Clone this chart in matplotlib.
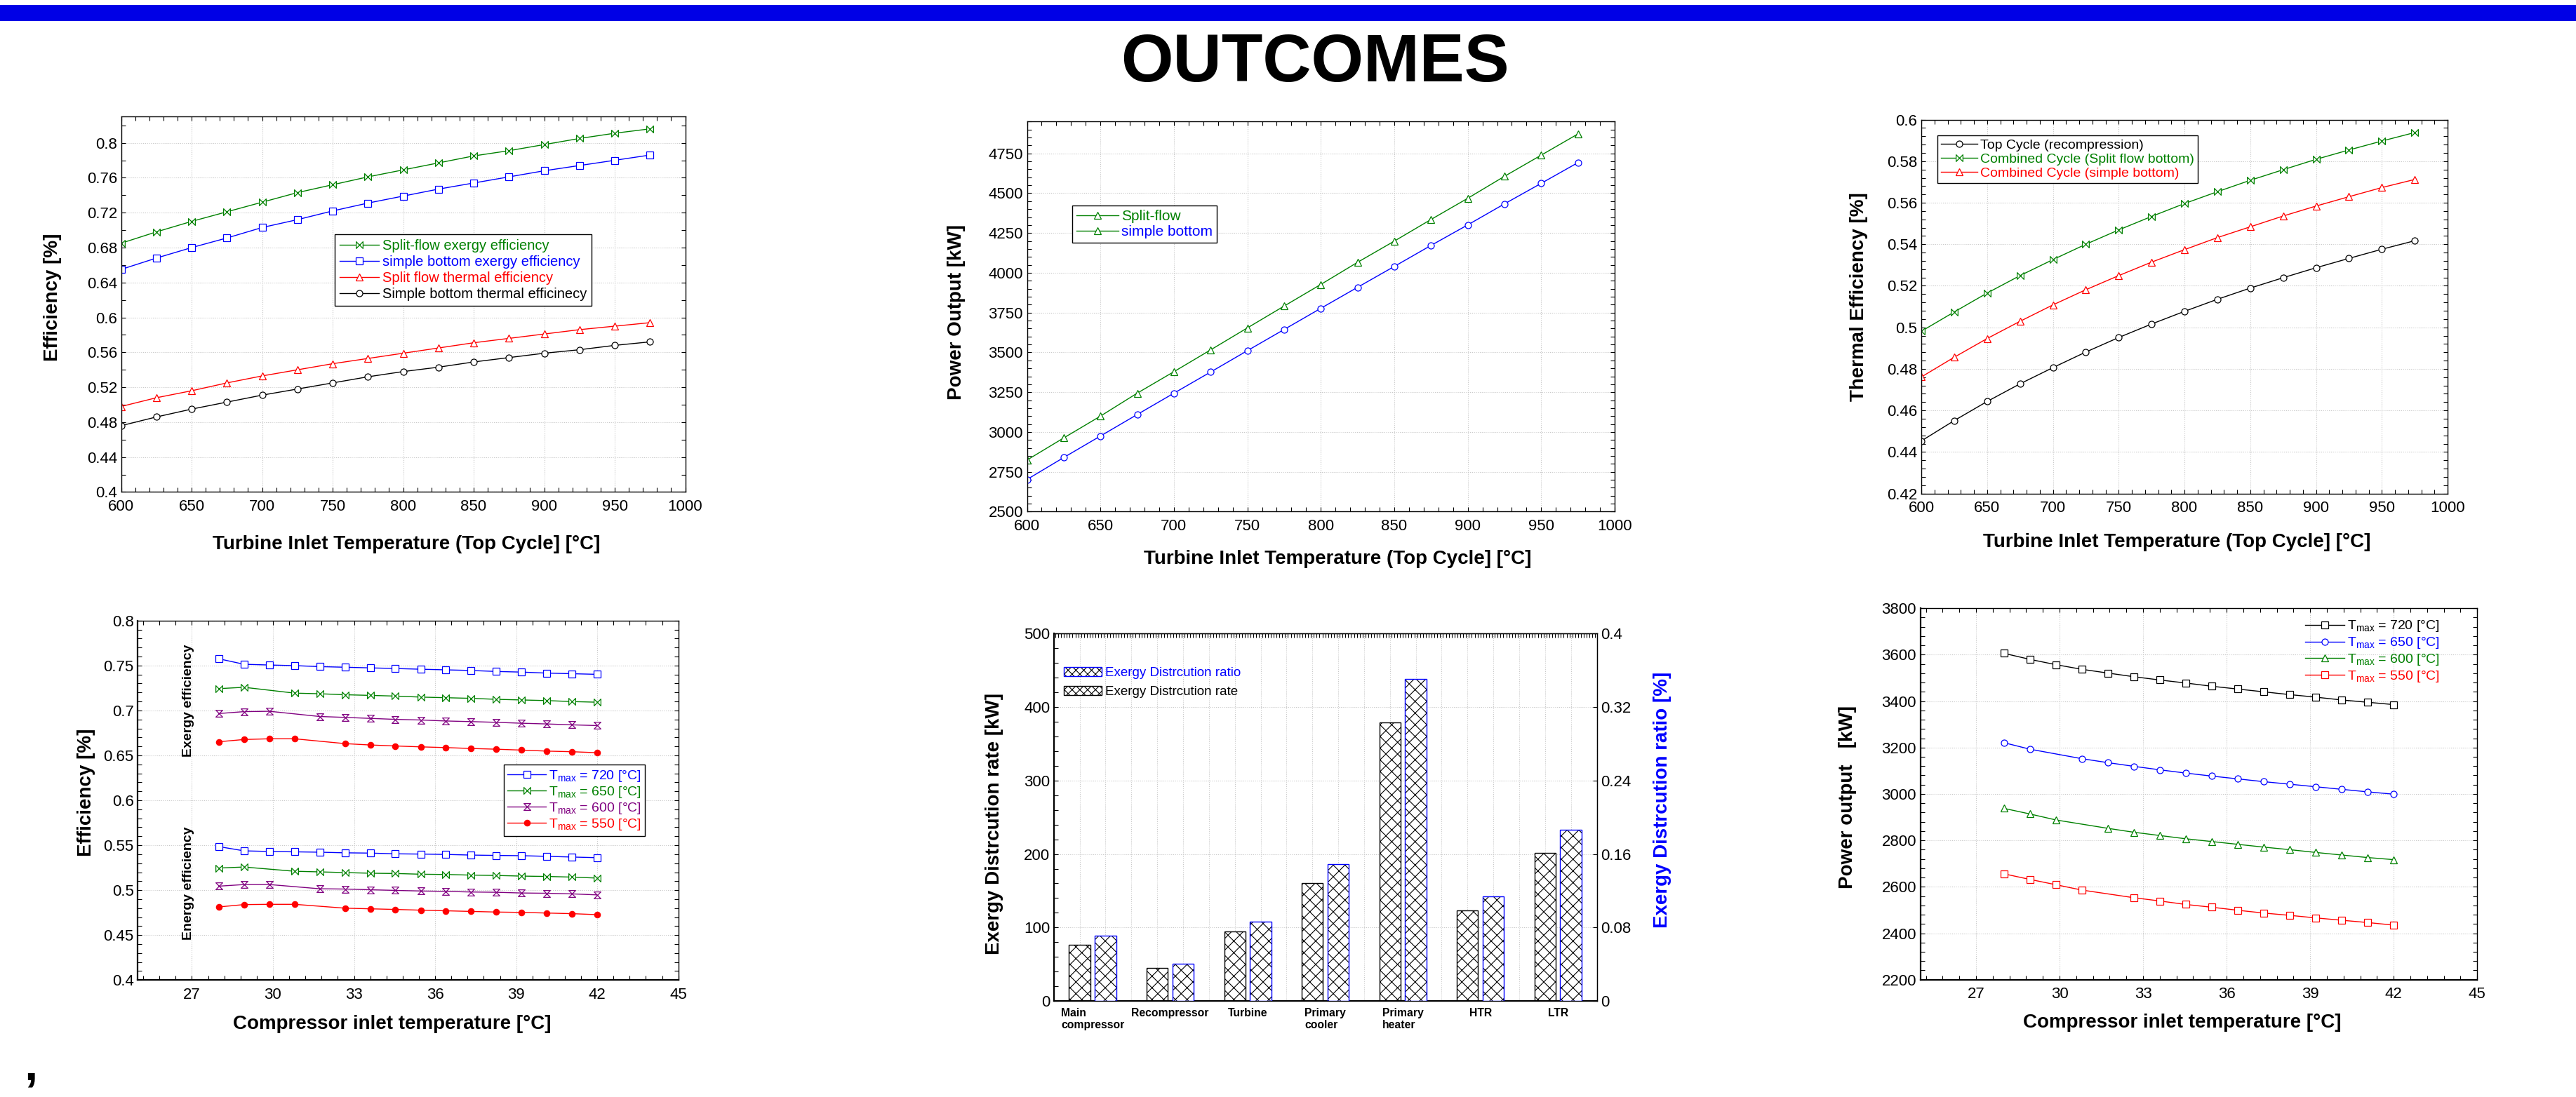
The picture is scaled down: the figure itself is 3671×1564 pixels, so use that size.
import numpy as np
import matplotlib
matplotlib.use('Agg')
import matplotlib.pyplot as plt
from matplotlib.path import Path
from matplotlib.patches import Patch, Rectangle
from matplotlib.lines import Line2D
from matplotlib.ticker import MultipleLocator, FuncFormatter

plt.rcParams['font.family'] = ['Liberation Sans', 'DejaVu Sans']
plt.rcParams['mathtext.fontset'] = 'custom'
plt.rcParams['mathtext.rm'] = 'Liberation Sans'
plt.rcParams['hatch.linewidth'] = 0.8

# ---- top row: sweep of turbine inlet temperature ----
tit = [600, 625, 650, 675, 700, 725, 750, 775, 800, 825, 850, 875, 900, 925, 950, 975]

split_exergy = [0.685, 0.698, 0.710, 0.721, 0.732, 0.743, 0.752, 0.761, 0.769, 0.777, 0.785, 0.791, 0.798, 0.805, 0.811, 0.816]
simple_exergy = [0.655, 0.668, 0.680, 0.691, 0.703, 0.712, 0.722, 0.731, 0.739, 0.747, 0.754, 0.761, 0.768, 0.774, 0.780, 0.786]
split_thermal = [0.498, 0.508, 0.516, 0.525, 0.533, 0.540, 0.547, 0.553, 0.559, 0.565, 0.571, 0.576, 0.581, 0.586, 0.590, 0.594]
simple_thermal = [0.476, 0.486, 0.495, 0.503, 0.511, 0.518, 0.525, 0.532, 0.538, 0.543, 0.549, 0.554, 0.559, 0.563, 0.568, 0.572]

power_split = [2824, 2963, 3100, 3244, 3379, 3516, 3654, 3791, 3927, 4066, 4199, 4335, 4468, 4606, 4739, 4872]
power_simple = [2702, 2840, 2975, 3110, 3244, 3377, 3511, 3644, 3777, 3909, 4040, 4172, 4301, 4433, 4562, 4692]

eta_top = [0.4453, 0.4551, 0.4643, 0.4728, 0.4806, 0.4881, 0.4951, 0.5016, 0.5077, 0.5135, 0.5189, 0.5239, 0.5287, 0.5332, 0.5376, 0.5417]
eta_cc_split = [0.4981, 0.5074, 0.5165, 0.5249, 0.5326, 0.5400, 0.5469, 0.5534, 0.5596, 0.5653, 0.5708, 0.5759, 0.5809, 0.5854, 0.5897, 0.5938]
eta_cc_simple = [0.4761, 0.4856, 0.4946, 0.5029, 0.5108, 0.5181, 0.5249, 0.5314, 0.5374, 0.5432, 0.5484, 0.5536, 0.5584, 0.5629, 0.5673, 0.5712]

# ---- bottom row: sweep of compressor inlet temperature (None = point not solved) ----
cit = [28, 28.93, 29.87, 30.8, 31.73, 32.67, 33.6, 34.53, 35.47, 36.4, 37.33, 38.27, 39.2, 40.13, 41.07, 42]

ex720 = [0.7575, 0.7514, 0.7506, 0.7499, 0.7488, 0.7481, 0.7474, 0.7467, 0.7459, 0.7452, 0.7445, 0.7434, 0.7427, 0.7416, 0.7409, 0.7402]
ex650 = [0.7243, 0.7258, None, 0.7193, 0.7186, 0.7175, 0.7168, 0.7160, 0.7149, 0.7142, 0.7135, 0.7124, 0.7117, 0.7110, 0.7099, 0.7092]
ex600 = [0.6966, 0.6987, 0.6991, None, 0.6933, 0.6923, 0.6912, 0.6901, 0.6894, 0.6883, 0.6876, 0.6868, 0.6858, 0.6850, 0.6840, 0.6832]
ex550 = [0.6652, 0.6677, 0.6685, 0.6685, None, 0.6631, 0.6616, 0.6605, 0.6595, 0.6587, 0.6577, 0.6569, 0.6559, 0.6548, 0.6541, 0.6530]
en720 = [0.5485, 0.5438, 0.5431, 0.5427, 0.5423, 0.5416, 0.5413, 0.5405, 0.5402, 0.5398, 0.5391, 0.5387, 0.5384, 0.5377, 0.5369, 0.5362]
en650 = [0.5247, 0.5258, None, 0.5211, 0.5204, 0.5196, 0.5189, 0.5186, 0.5178, 0.5175, 0.5168, 0.5164, 0.5157, 0.5153, 0.5146, 0.5135]
en600 = [0.5045, 0.5063, 0.5063, None, 0.5016, 0.5013, 0.5005, 0.4998, 0.4991, 0.4987, 0.4980, 0.4977, 0.4969, 0.4966, 0.4959, 0.4948]
en550 = [0.4814, 0.4840, 0.4843, 0.4843, None, 0.4800, 0.4793, 0.4786, 0.4778, 0.4771, 0.4764, 0.4757, 0.4753, 0.4746, 0.4739, 0.4728]

pw720 = [3606, 3580, 3557, 3537, 3521, 3505, 3491, 3478, 3464, 3452, 3440, 3428, 3417, 3405, 3395, 3385]
pw650 = [3221, 3193, None, 3152, 3135, 3119, 3104, 3090, 3077, 3065, 3053, 3042, 3031, 3020, 3009, 2999]
pw600 = [2938, 2914, 2888, None, 2852, 2835, 2821, 2807, 2795, 2783, 2771, 2760, 2748, 2737, 2726, 2717]
pw550 = [2656, 2632, 2609, 2586, None, 2553, 2539, 2524, 2512, 2499, 2487, 2477, 2466, 2456, 2446, 2435]

tmax_labels = ['T$_{\\mathregular{max}}$ = 720 [°C]', 'T$_{\\mathregular{max}}$ = 650 [°C]',
               'T$_{\\mathregular{max}}$ = 600 [°C]', 'T$_{\\mathregular{max}}$ = 550 [°C]']

# ---- exergy destruction per component ----
components = ['Main\ncompressor', 'Recompressor', 'Turbine', 'Primary\ncooler', 'Primary\nheater', 'HTR', 'LTR']
exd_rate = [76.9, 44.7, 94.3, 160.9, 379.2, 123.7, 201.0]
exd_ratio = [0.0711, 0.0410, 0.0867, 0.1486, 0.3500, 0.1141, 0.1860]

GREEN, BLUE, RED, PURPLE, BLACK = '#008000', '#0000ff', '#ff0000', '#800080', '#000000'

bowtie = Path([(-1, 1), (1, -1), (1, 1), (-1, -1), (-1, 1)],
              [Path.MOVETO, Path.LINETO, Path.LINETO, Path.LINETO, Path.CLOSEPOLY])
hourglass = Path([(-1, 1), (1, 1), (-1, -1), (1, -1), (-1, 1)],
                 [Path.MOVETO, Path.LINETO, Path.LINETO, Path.LINETO, Path.CLOSEPOLY])

W, H = 3671.0, 1564.0
fig = plt.figure(figsize=(W / 100, H / 100), dpi=100)


def px_axes(l, t, r, b):
    return fig.add_axes([l / W, 1 - b / H, (r - l) / W, (b - t) / H])


def fmt(v, pos):
    return '%g' % round(v, 6)


def frame(ax, xlim, ylim, xmaj, xmin, ymaj, ymin, heavy=False):
    ax.set_xlim(*xlim)
    ax.set_ylim(*ylim)
    ax.xaxis.set_major_locator(MultipleLocator(xmaj))
    ax.xaxis.set_minor_locator(MultipleLocator(xmin))
    ax.yaxis.set_major_locator(MultipleLocator(ymaj))
    ax.yaxis.set_minor_locator(MultipleLocator(ymin))
    ax.xaxis.set_major_formatter(FuncFormatter(fmt))
    ax.yaxis.set_major_formatter(FuncFormatter(fmt))
    ax.tick_params(which='both', direction='in', top=True, right=True,
                   length=4, width=0.8, labelsize=16)
    ax.tick_params(axis='x', pad=7.5)
    ax.tick_params(axis='y', pad=4)
    ax.grid(True, which='major', color='#c8c8c8', linestyle=(0, (1, 1.5)), linewidth=0.8)
    ax.set_axisbelow(True)
    for s in ax.spines.values():
        s.set_linewidth(1.0)
    if heavy:
        ax.spines['bottom'].set_linewidth(1.6)
        ax.spines['left'].set_linewidth(1.6)


def labels(ax, xl, yl, xpos, ypos):
    if xl:
        ax.set_xlabel(xl, fontsize=20, fontweight='bold')
        ax.xaxis.set_label_coords(*xpos)
        ax.xaxis.label.set_va('center')
    ax.set_ylabel(yl, fontsize=20, fontweight='bold')
    ax.yaxis.set_label_coords(*ypos)
    ax.yaxis.label.set_va('center')


def series(ax, x, y, color, marker, ms=7, mfc='white', label=None):
    xs = [a for a, b in zip(x, y) if b is not None]
    ys = [b for b in y if b is not None]
    return ax.plot(xs, ys, color=color, lw=1.0, marker=marker, ms=ms, mfc=mfc,
                   mec=color, mew=0.9, label=label)[0]


def boxed_legend(ax, handles, texts, anchor, fs, **kw):
    leg = ax.legend(handles, texts, loc='upper left', bbox_to_anchor=anchor,
                    borderaxespad=0, fancybox=False, edgecolor='black', framealpha=1,
                    fontsize=fs, **kw)
    leg.get_frame().set_linewidth(1.0)
    return leg


TIT_LABEL = 'Turbine Inlet Temperature (Top Cycle] [°C]'
CIT_LABEL = 'Compressor inlet temperature [°C]'

# blue band and heading
fig.add_artist(Rectangle((0, 1 - 30 / H), 1, 23 / H, transform=fig.transFigure,
                         facecolor='#0000e6', edgecolor='none'))
fig.text(1873.5 / W, 1 - 116 / H, 'OUTCOMES', ha='center', va='baseline',
         fontsize=69, fontweight='bold')
fig.text(34 / W, 1 - 1540 / H, ',', ha='left', va='baseline', fontsize=50, fontweight='bold')

# ---- panel 1: efficiencies vs TIT ----
ax1 = px_axes(172.6, 166.3, 976.5, 701.5)
frame(ax1, (600, 1000), (0.4, 0.83), 50, 10, 0.04, 0.02)
h1 = [series(ax1, tit, split_exergy, GREEN, bowtie, label='Split-flow exergy efficiency'),
      series(ax1, tit, simple_exergy, BLUE, 's', label='simple bottom exergy efficiency'),
      series(ax1, tit, split_thermal, RED, '^', label='Split flow thermal efficiency'),
      series(ax1, tit, simple_thermal, BLACK, 'o', ms=6.5, label='Simple bottom thermal efficinecy')]
boxed_legend(ax1, h1, [h.get_label() for h in h1], (0.3787, 0.6863), 14.5,
             labelcolor='linecolor', handlelength=2.8, handletextpad=0.2,
             labelspacing=0.2, borderpad=0.35)
labels(ax1, TIT_LABEL, 'Efficiency [%]', (0.506, -0.140), (-0.122, 0.518))

# ---- panel 2: power output vs TIT ----
ax2 = px_axes(1463.5, 173.3, 2301.0, 729.5)
frame(ax2, (600, 1000), (2500, 4950), 50, 10, 250, 50)
series(ax2, tit, power_split, GREEN, '^')
series(ax2, tit, power_simple, BLUE, 'o', ms=6.5)
h2 = [Line2D([], [], color=GREEN, lw=1.0, marker='^', ms=7, mfc='white', mec=GREEN, mew=0.9)
      for _ in range(2)]
leg2 = boxed_legend(ax2, h2, ['Split-flow', 'simple bottom'], (0.0770, 0.7848), 15,
                    handlelength=2.9, handletextpad=0.2, labelspacing=0.17, borderpad=0.28)
for t, c in zip(leg2.get_texts(), [GREEN, BLUE]):
    t.set_color(c)
labels(ax2, TIT_LABEL, 'Power Output [kW]', (0.529, -0.1205), (-0.12, 0.512))

# ---- panel 3: thermal efficiency vs TIT ----
ax3 = px_axes(2738.0, 170.6, 3488.0, 703.6)
frame(ax3, (600, 1000), (0.42, 0.6), 50, 10, 0.02, 0.004)
h3 = [series(ax3, tit, eta_top, BLACK, 'o', ms=6.5, label='Top Cycle (recompression)'),
      series(ax3, tit, eta_cc_split, GREEN, bowtie, label='Combined Cycle (Split flow bottom)'),
      series(ax3, tit, eta_cc_simple, RED, '^', label='Combined Cycle (simple bottom)')]
boxed_legend(ax3, h3, [h.get_label() for h in h3], (0.030, 0.958), 14,
             labelcolor='linecolor', handlelength=2.7, handletextpad=0.2,
             labelspacing=0.12, borderpad=0.27)
labels(ax3, TIT_LABEL, 'Thermal Efficiency [%]', (0.485, -0.13), (-0.1184, 0.527))

# ---- panel 4: efficiencies vs compressor inlet temperature ----
ax4 = px_axes(196.4, 884.8, 966.7, 1397.3)
frame(ax4, (25, 45), (0.4, 0.8), 3, 0.6, 0.05, 0.01, heavy=True)
h4 = [series(ax4, cit, ex720, BLUE, 's'),
      series(ax4, cit, ex650, GREEN, bowtie),
      series(ax4, cit, ex600, PURPLE, hourglass),
      series(ax4, cit, ex550, RED, 'o', ms=6, mfc=RED)]
series(ax4, cit, en720, BLUE, 's')
series(ax4, cit, en650, GREEN, bowtie)
series(ax4, cit, en600, PURPLE, hourglass)
series(ax4, cit, en550, RED, 'o', ms=6, mfc=RED)
ax4.text(26.88, 0.711, 'Exergy efficiency', rotation=90, ha='center', va='center',
         fontsize=14, fontweight='bold')
ax4.text(26.88, 0.508, 'Energy efficiency', rotation=90, ha='center', va='center',
         fontsize=14, fontweight='bold')
boxed_legend(ax4, h4, tmax_labels, (0.6766, 0.5992), 14,
             labelcolor='linecolor', handlelength=2.8, handletextpad=0.2,
             labelspacing=0.1, borderpad=0.3)
labels(ax4, CIT_LABEL, 'Efficiency [%]', (0.470, -0.1216), (-0.0956, 0.521))

# ---- panel 5: exergy destruction bars ----
ax5 = px_axes(1501.8, 902.9, 2275.5, 1427.3)
pos = np.arange(len(components))
ax5.set_xlim(-0.5, 6.5)
ax5.set_ylim(0, 500)
ax5.bar(pos - 1 / 6, exd_rate, width=0.275, color='white', edgecolor='black',
        hatch='xx', linewidth=1.0, zorder=2)
ax5.yaxis.set_major_locator(MultipleLocator(100))
ax5.yaxis.set_minor_locator(MultipleLocator(20))
ax5.yaxis.set_major_formatter(FuncFormatter(fmt))
ax5.tick_params(axis='y', which='both', direction='in', left=True, right=False,
                length=4, width=0.8, labelsize=16, pad=4)
ax5.set_xticks(pos)
ax5.set_xticklabels(components, fontsize=11.3, fontweight='bold', multialignment='left')
ax5.set_xticks(np.arange(-1 / 6, 6.5, 1 / 3), minor=True)
ax5.tick_params(axis='x', which='both', length=0, pad=7)
ax5.grid(True, axis='y', which='major', color='#c8c8c8', linestyle=(0, (1, 1.5)), linewidth=0.8)
ax5.grid(True, axis='x', which='minor', color='#c8c8c8', linestyle=(0, (1, 1.5)), linewidth=0.8)
ax5.set_axisbelow(True)
top = ax5.secondary_xaxis('top')
top.xaxis.set_major_locator(MultipleLocator(1 / 27))
top.tick_params(direction='in', length=4, width=0.8, labeltop=False)
for s in ax5.spines.values():
    s.set_linewidth(1.0)
ax5.spines['bottom'].set_linewidth(1.6)
ax5.spines['left'].set_linewidth(1.6)

ax5r = ax5.twinx()
ax5r.set_ylim(0, 0.4)
ax5r.bar(pos + 1 / 6, exd_ratio, width=0.275, color='white', edgecolor='black',
         hatch='xx', linewidth=0, zorder=2)
ax5r.bar(pos + 1 / 6, exd_ratio, width=0.275, fill=False, edgecolor=BLUE,
         linewidth=1.0, zorder=3)
ax5r.yaxis.set_major_locator(MultipleLocator(0.08))
ax5r.yaxis.set_major_formatter(FuncFormatter(fmt))
ax5r.tick_params(axis='y', direction='in', length=4, width=0.8, labelsize=16, pad=4)
ax5r.set_ylabel('Exergy Distrcution ratio [%]', fontsize=20, fontweight='bold', color=BLUE)
ax5r.yaxis.set_label_coords(1.1207, 0.5467)
ax5r.yaxis.label.set_va('center')
ax5r.yaxis.label.set_rotation(90)

ratio_handle = (Patch(facecolor='white', edgecolor='black', hatch='xxx', linewidth=0),
                Patch(fill=False, edgecolor=BLUE, linewidth=1.0))
rate_handle = Patch(facecolor='white', edgecolor='black', hatch='xxx', linewidth=1.0)
leg5 = ax5r.legend([ratio_handle, rate_handle],
                   ['Exergy Distrcution ratio', 'Exergy Distrcution rate'],
                   loc='center left', bbox_to_anchor=(0.0184, 0.8663), frameon=False,
                   borderpad=0, borderaxespad=0, fontsize=13.5, handlelength=2.9,
                   handleheight=0.7, handletextpad=0.25, labelspacing=0.55)
leg5.get_texts()[0].set_color(BLUE)
labels(ax5, None, 'Exergy Distrcution rate [kW]', None, (-0.1096, 0.483))

# ---- panel 6: power output vs compressor inlet temperature ----
ax6 = px_axes(2736.6, 867.2, 3530.2, 1396.7)
frame(ax6, (25, 45), (2200, 3800), 3, 0.6, 200, 40, heavy=True)
h6 = [series(ax6, cit, pw720, BLACK, 's'),
      series(ax6, cit, pw650, BLUE, 'o', ms=6.5),
      series(ax6, cit, pw600, GREEN, '^'),
      series(ax6, cit, pw550, RED, 's')]
ax6.legend(h6, tmax_labels, loc='upper left', bbox_to_anchor=(0.691, 0.9713), frameon=False,
           borderpad=0, borderaxespad=0, fontsize=14, labelcolor='linecolor',
           handlelength=2.9, handletextpad=0.2, labelspacing=0.15)
labels(ax6, CIT_LABEL, 'Power output   [kW]', (0.47, -0.1163), (-0.1308, 0.4916))

fig.savefig('out.png', dpi=100)
